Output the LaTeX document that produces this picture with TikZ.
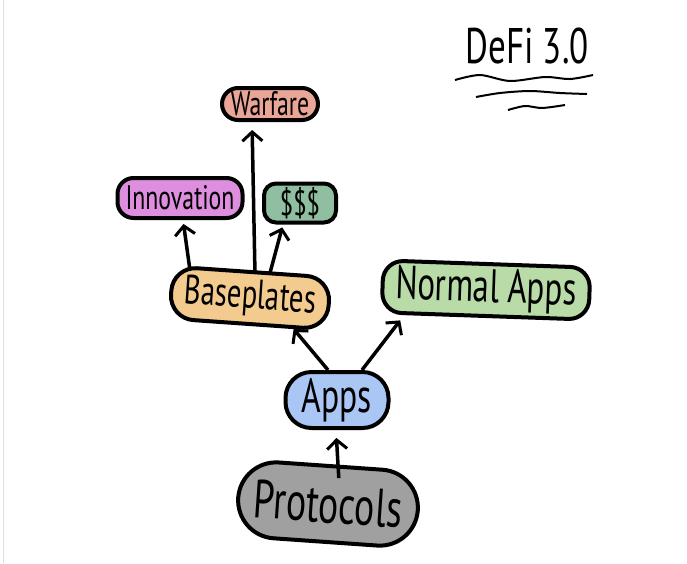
\documentclass[tikz,border=0pt]{standalone}
\usepackage{fontspec}
\usetikzlibrary{arrows.meta}
\newfontfamily\hand[FakeStretch=0.7]{PT Sans}
\definecolor{warfarec}{HTML}{E9A596}
\definecolor{innovc}{HTML}{DE8EDE}
\definecolor{moneyc}{HTML}{8FBEA0}
\definecolor{basec}{HTML}{F4CB8E}
\definecolor{normalc}{HTML}{B8DBA8}
\definecolor{appsc}{HTML}{A9C6F5}
\definecolor{protoc}{HTML}{A0A0A0}
\tikzset{
  blob/.style={draw=black, line width=4pt, rounded corners=16pt, inner sep=0pt},
  arr/.style={line width=3.5pt, -{Straight Barb[length=9pt,width=20pt,line width=3pt]}},
}

\begin{document}
\begin{tikzpicture}[x=1pt,y=-1pt]
        \useasboundingbox (0,0) rectangle (687,563);
        \draw[gray!25, line width=1pt] (3,0) -- (3,563);
        % title
        \node (title) at (527,46) {\hand\fontsize{50}{50}\selectfont DeFi 3.0};
        \draw[line width=2pt] plot[smooth] coordinates {(455,80) (480,75) (510,81) (545,77) (570,79) (593,75)};
        \draw[line width=2pt] plot[smooth] coordinates {(476,97) (500,93) (530,91) (560,93) (587,94)};
        \draw[line width=2pt] plot[smooth] coordinates {(508,110) (525,106) (542,108) (565,105)};
        % boxes
        \node[blob, fill=warfarec, minimum width=96pt, minimum height=32pt] (warfare) at (270,104) {\hand\fontsize{34}{34}\selectfont Warfare};
        \node[blob, fill=innovc, minimum width=125pt, minimum height=40pt] (innovation) at (180,198) {\hand\fontsize{34}{34}\selectfont Innovation};
        \node[blob, fill=moneyc, minimum width=72pt, minimum height=39pt, rounded corners=12pt] (money) at (300,203) {\hand\fontsize{35}{35}\selectfont \$\$\$};
        \node[blob, fill=basec, minimum width=158pt, minimum height=52pt, rounded corners=24pt, rotate=-4] (baseplates) at (250,298) {\hand\fontsize{41}{41}\selectfont Baseplates};
        \node[blob, fill=normalc, minimum width=207pt, minimum height=52pt, rounded corners=20pt, rotate=-2] (normal) at (486,290) {\hand\fontsize{47}{47}\selectfont Normal Apps};
        \node[blob, fill=appsc, minimum width=103pt, minimum height=56pt, rounded corners=26pt] (apps) at (337,400) {\hand\fontsize{48}{48}\selectfont Apps};
        \node[blob, fill=protoc, minimum width=180pt, minimum height=76pt, rounded corners=38pt, rotate=-4] (protocols) at (328,504) {\hand\fontsize{54}{54}\selectfont Protocols};
        % arrows
        \draw[arr, shorten >=4pt] ([xshift=-62pt]baseplates.north) -- ([xshift=3pt]innovation.south);
        \draw[arr, shorten >=8pt] ([xshift=3pt,yshift=-2pt]baseplates.north) -- ([xshift=-18pt]warfare.south);
        \draw[arr, shorten >=3pt] ([xshift=18pt,yshift=-3pt]baseplates.north) -- ([xshift=-17pt]money.south);
        \draw[arr, shorten >=4pt] ([xshift=-9pt]apps.north) -- ([xshift=43pt]baseplates.south);
        \draw[arr, shorten >=3pt] ([xshift=25pt]apps.north) -- ([xshift=-83pt]normal.south);
        \draw[arr, shorten >=8pt] ([xshift=8pt,yshift=-14pt]protocols.north) -- ([xshift=-1pt]apps.south);
\end{tikzpicture}
\end{document}
